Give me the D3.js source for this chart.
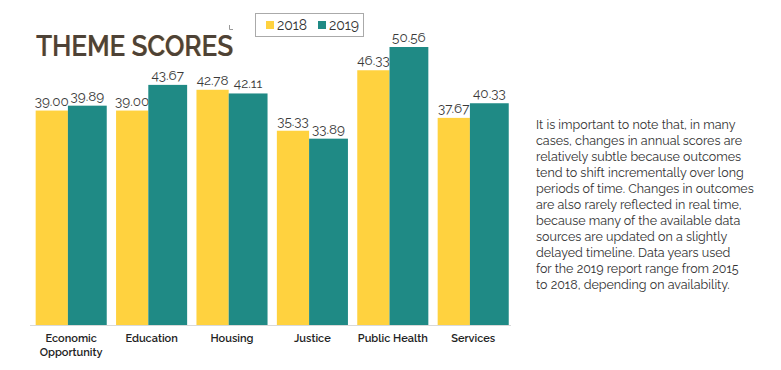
<!DOCTYPE html>
<html><head><meta charset="utf-8">
<script src="https://cdn.jsdelivr.net/npm/d3@7"></script>
<style>
body{margin:0;background:#fff;}
svg{display:block;}
</style></head>
<body>
<svg id="c" width="781" height="370"></svg>
<script>
const categories = ["Economic Opportunity","Education","Housing","Justice","Public Health","Services"];
const categoryLines = [["Economic","Opportunity"],["Education"],["Housing"],["Justice"],["Public Health"],["Services"]];
const series = ["2018","2019"];
const values2018 = [39.00,39.00,42.78,35.33,46.33,37.67];
const values2019 = [39.89,43.67,42.11,33.89,50.56,40.33];
const colors = ["#FFD23F","#1F8A85"];
const noteLines = [
 "It is important to note that, in many",
 "cases, changes in annual scores are",
 "relatively subtle because outcomes",
 "tend to shift incrementally over long",
 "periods of time. Changes in outcomes",
 "are also rarely reflected in real time,",
 "because many of the available data",
 "sources are updated on a slightly",
 "delayed timeline. Data years used",
 "for the 2019 report range from 2015",
 "to 2018, depending on availability."
];
const valuesBySeries = [values2018, values2019];

const svg = d3.select("#c");
const font = "Raleway, Lato, 'Open Sans', sans-serif";

const x = d3.scaleBand().domain(categories).range([31, 513.4]).paddingInner(0.116).paddingOuter(0.058);
const bw = x.bandwidth();
const xs = d3.scaleBand().domain(series).range([0, bw]);
const y = d3.scaleLinear().domain([0, 50.56]).range([325, 47]);

function barX(i, c){ return x(c) + xs(series[i]) + (i===1 ? -3.3 : 0); }
function barW(i){ return i===0 ? xs.bandwidth()-3.3 : xs.bandwidth()+3.3; }

series.forEach((s,i)=>{
  const g = svg.append("g");
  g.selectAll("rect").data(categories).join("rect")
    .attr("x", c=>barX(i,c))
    .attr("width", barW(i))
    .attr("y", (c,k)=>y(valuesBySeries[i][k]))
    .attr("height", (c,k)=>y(0)-y(valuesBySeries[i][k]))
    .attr("fill", colors[i]);
  g.selectAll("text").data(categories).join("text")
    .attr("x", c=>barX(i,c)+barW(i)/2)
    .attr("y", (c,k)=>y(valuesBySeries[i][k])-5)
    .attr("text-anchor","middle")
    .attr("font-family", font)
    .attr("font-size", 13.5)
    .attr("fill","#3a3a3a")
    .text((c,k)=>valuesBySeries[i][k].toFixed(2));
});

svg.append("line").attr("x1",30).attr("x2",511).attr("y1",y(0)+0.5).attr("y2",y(0)+0.5)
  .attr("stroke","#d9d9d9").attr("stroke-width",1);

const cl = svg.append("g");
categories.forEach((c,k)=>{
  const t = cl.append("text")
    .attr("x", x(c)+bw/2).attr("y", 342)
    .attr("text-anchor","middle")
    .attr("font-family", font).attr("font-size", 11).attr("font-weight",600)
    .attr("fill","#222");
  categoryLines[k].forEach((ln,j)=>{
    t.append("tspan").attr("x", x(c)+bw/2).attr("dy", j===0?0:14).text(ln);
  });
});

svg.append("text").attr("x",36).attr("y",55.5)
  .attr("font-family", font).attr("font-size",29).attr("font-weight",600)
  .attr("fill","#4d4237")
  .style("text-shadow","0.6px 0 0 #d8b070")
  .attr("textLength",197).attr("lengthAdjust","spacingAndGlyphs")
  .text("THEME SCORES");

svg.append("path").attr("d","M229.5,25 V29.5 H233").attr("fill","none").attr("stroke","#999").attr("stroke-width",1);

const lg = svg.append("g");
lg.append("rect").attr("x",255.5).attr("y",13.5).attr("width",108).attr("height",23)
  .attr("fill","#fff").attr("stroke","#aaa");
const lx = [266, 318];
series.forEach((s,i)=>{
  lg.append("rect").attr("x",lx[i]).attr("y",21).attr("width",8).attr("height",8).attr("fill",colors[i]);
  lg.append("text").attr("x",lx[i]+11).attr("y",30)
    .attr("font-family",font).attr("font-size",14).attr("fill","#333").text(s);
});

const nt = svg.append("text").attr("x",536).attr("y",129)
  .attr("font-family",font).attr("font-size",12.5).attr("fill","#333");
noteLines.forEach((ln,j)=>{
  nt.append("tspan").attr("x",536).attr("dy", j===0?0:16).text(ln);
});
</script>
</body></html>
